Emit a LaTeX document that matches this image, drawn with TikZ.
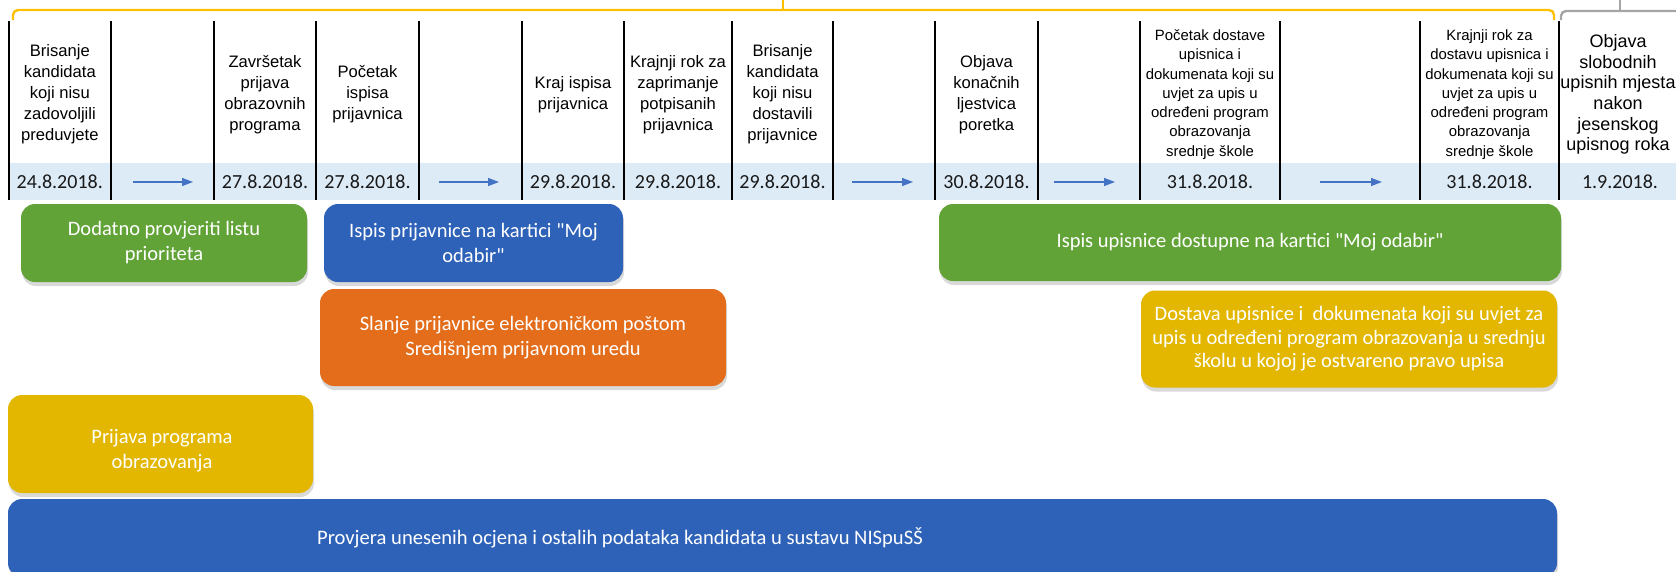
\documentclass[tikz,border=0pt]{standalone}
\usepackage{fontspec}
\setmainfont{Liberation Sans}
\newfontfamily\calibri{Carlito}
\usetikzlibrary{positioning,arrows.meta,shadows}

\definecolor{rokgold}{HTML}{FFC000}
\definecolor{rokgrey}{HTML}{A5A5A5}
\definecolor{pojas}{HTML}{DDEBF7}
\definecolor{strelica}{HTML}{4472C4}
\definecolor{zelena}{HTML}{62A338}
\definecolor{plava}{HTML}{2E62B8}
\definecolor{narancasta}{HTML}{E36D1A}
\definecolor{zuta}{HTML}{E3B700}

\begin{document}
\begin{tikzpicture}[x=1pt,y=-1pt,
    naslov/.style={align=center,inner sep=0pt,font=\fontsize{16.6}{21}\selectfont},
    sitninaslov/.style={align=center,inner sep=0pt,font=\fontsize{14.9}{19.3}\selectfont},
    datum/.style={inner sep=0pt,text=black!90,font=\calibri\fontsize{20}{24}\selectfont},
    dan/.style={draw=strelica,line width=1.3pt,-{Triangle[length=11pt,width=8pt]}},
    kutija/.style={rounded corners=14pt,inner sep=0pt,text=white,align=center,
        font=\calibri\fontsize{20.5}{25}\selectfont,
        drop shadow={shadow xshift=1pt,shadow yshift=-4pt,opacity=0.3}}]
  \useasboundingbox (0,0) rectangle (1676,571);

  % Rokovi iznad tablice
  \draw[rokgold,line width=2.4pt,rounded corners=5pt] (13,20) -- (13,10) -- (1554,10) -- (1554,20);
  \draw[rokgold,line width=2.4pt] (783,10) -- (783,0);
  \draw[rokgrey,line width=2.4pt,rounded corners=5pt] (1561,20) -- (1561,11) -- (1690,11);
  \draw[rokgrey,line width=2.4pt] (1620,11) -- (1620,0);

  % Tablica s datumima
  \fill[pojas] (8,163) rectangle (1676,200);
  \draw[line width=2pt] (8.6,21) -- (8.6,200) (111,21) -- (111,200) (214,21) -- (214,200)
    (316,21) -- (316,200) (419,21) -- (419,200) (522,21) -- (522,200) (624,21) -- (624,200)
    (732,21) -- (732,200) (833,21) -- (833,200) (935,21) -- (935,200) (1038,21) -- (1038,200)
    (1140,21) -- (1140,200) (1280,21) -- (1280,200) (1420,21) -- (1420,200) (1559,21) -- (1559,200);

  \node[naslov] (brisanjeA) at (59.8,94.5) {Brisanje\\kandidata\\koji nisu\\zadovoljili\\preduvjete};
  \node[naslov] (zavrsetak) at (265,94.5) {Završetak\\prijava\\obrazovnih\\programa};
  \node[naslov] (pocetakIspisa) at (367.5,94.5) {Početak\\ispisa\\prijavnica};
  \node[naslov] (krajIspisa) at (573,94.5) {Kraj ispisa\\prijavnica};
  \node[naslov] (krajnjiRokA) at (678,94.5) {Krajnji rok za\\zaprimanje\\potpisanih\\prijavnica};
  \node[naslov] (brisanjeB) at (782.5,94.5) {Brisanje\\kandidata\\koji nisu\\dostavili\\prijavnice};
  \node[naslov] (objavaLjestvica) at (986.5,94.5) {Objava\\konačnih\\ljestvica\\poretka};
  \node[sitninaslov] (pocetakDostave) at (1210,94.5) {Početak dostave\\upisnica i\\dokumenata koji su\\uvjet za upis u\\određeni program\\obrazovanja\\srednje škole};
  \node[sitninaslov] (krajnjiRokB) at (1489.5,94.5) {Krajnji rok za\\dostavu upisnica i\\dokumenata koji su\\uvjet za upis u\\određeni program\\obrazovanja\\srednje škole};
  \node[naslov,font=\fontsize{18}{20.7}\selectfont] (objavaMjesta) at (1618,94.5) {Objava\\slobodnih\\upisnih mjesta\\nakon\\jesenskog\\upisnog roka};

  \node[datum] (brisanjeAdat) at (59.8,182) {24.8.2018.};
  \node[datum] (zavrsetakDat) at (265,182) {27.8.2018.};
  \node[datum] (pocetakIspisaDat) at (367.5,182) {27.8.2018.};
  \node[datum] (krajIspisaDat) at (573,182) {29.8.2018.};
  \node[datum] (krajnjiRokAdat) at (678,182) {29.8.2018.};
  \node[datum] (brisanjeBdat) at (782.5,182) {29.8.2018.};
  \node[datum] (objavaLjestvicaDat) at (986.5,182) {30.8.2018.};
  \node[datum] (pocetakDostaveDat) at (1210,182) {31.8.2018.};
  \node[datum] (krajnjiRokBdat) at (1489.5,182) {31.8.2018.};
  \node[datum] (objavaMjestaDat) at (1620,182) {1.9.2018.};

  % Strelice izmedju datuma
  \coordinate (danA1) at (133,182);  \coordinate (danA2) at (193,182);
  \coordinate (danB1) at (439,182);  \coordinate (danB2) at (499,182);
  \coordinate (danC1) at (852,182);  \coordinate (danC2) at (913,182);
  \coordinate (danD1) at (1054,182); \coordinate (danD2) at (1115,182);
  \coordinate (danE1) at (1320,182); \coordinate (danE2) at (1382,182);
  \draw[dan] (danA1) -- (danA2);
  \draw[dan] (danB1) -- (danB2);
  \draw[dan] (danC1) -- (danC2);
  \draw[dan] (danD1) -- (danD2);
  \draw[dan] (danE1) -- (danE2);

  % Aktivnosti
  \node[kutija,fill=zelena,minimum width=286pt,minimum height=78pt] (provjeritiListu) at (164,243)
    {Dodatno provjeriti listu\\prioriteta};
  \node[kutija,fill=plava,minimum width=299pt,minimum height=78pt] (ispisPrijavnice) at (473.5,243)
    {Ispis prijavnice na kartici "Moj\\odabir"};
  \node[kutija,fill=narancasta,minimum width=406pt,minimum height=97pt] (slanjePrijavnice) at (523,337.5)
    {Slanje prijavnice elektroničkom poštom\\Središnjem prijavnom uredu};
  \node[kutija,fill=zelena,minimum width=622pt,minimum height=77pt] (ispisUpisnice) at (1250,242.5)
    {Ispis upisnice dostupne na kartici "Moj odabir"};
  \node[kutija,fill=zuta,minimum width=416pt,minimum height=97pt,font=\calibri\fontsize{20.5}{23.5}\selectfont] (dostavaUpisnice) at (1349,339)
    {Dostava upisnice i~ dokumenata koji su uvjet za\\upis u određeni program obrazovanja u srednju\\školu u kojoj je ostvareno pravo upisa};
  \node[kutija,fill=zuta,minimum width=305pt,minimum height=98pt] (prijavaPrograma) at (160.5,444) {};
  \node[inner sep=0pt,text=white,align=center,font=\calibri\fontsize{20.5}{25}\selectfont] (prijavaProgramaTxt) at (162,451)
    {Prijava programa\\obrazovanja};
  \node[kutija,fill=plava,minimum width=1549pt,minimum height=78pt] (provjeraOcjena) at (782.5,538) {};
  \node[inner sep=0pt,text=white,font=\calibri\fontsize{20.6}{24}\selectfont] (provjeraOcjenaTxt) at (620,538)
    {Provjera unesenih ocjena i ostalih podataka kandidata u sustavu NISpuSŠ};
\end{tikzpicture}
\end{document}
